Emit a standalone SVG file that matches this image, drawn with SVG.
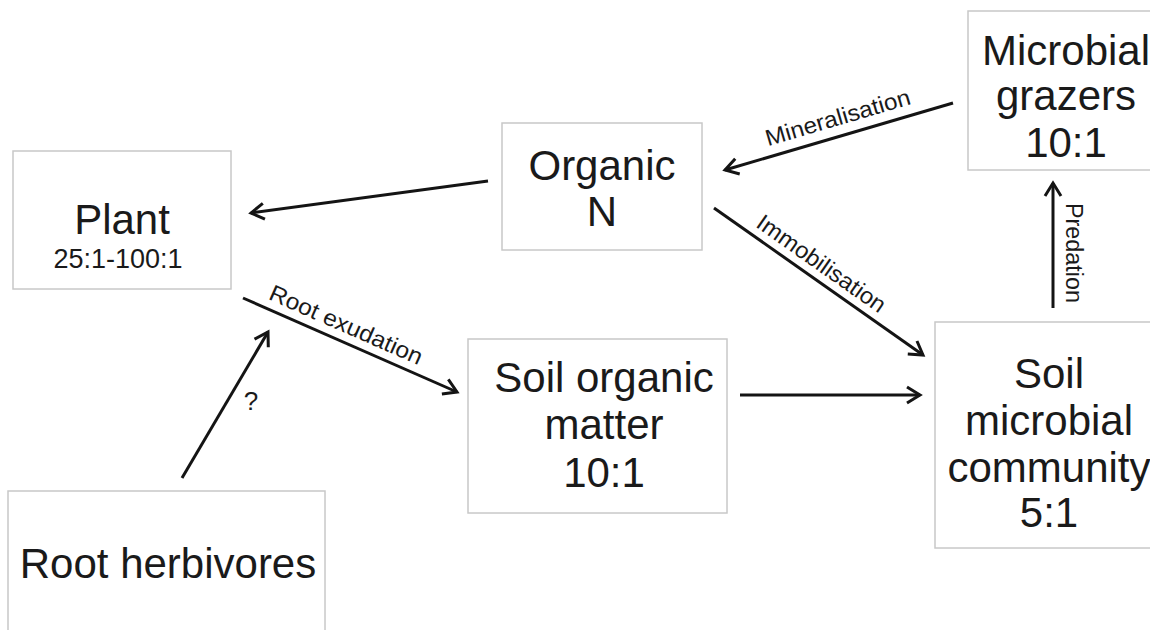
<svg xmlns="http://www.w3.org/2000/svg" width="1150" height="630" viewBox="0 0 1150 630">
<defs>
<style>
.box{fill:#fff;stroke:#c8c8c8;stroke-width:1.5}
.t{font-family:"Liberation Sans",Arial,sans-serif;font-size:42px;fill:#1a1a1a;text-anchor:middle}
.s{font-family:"Liberation Sans",Arial,sans-serif;font-size:27px;fill:#1a1a1a;text-anchor:middle}
.l{font-family:"Liberation Sans",Arial,sans-serif;font-size:23px;fill:#1a1a1a;text-anchor:middle}
.c{stroke:#141414;stroke-width:3;fill:none;marker-end:url(#ah)}
</style>
<marker id="ah" markerUnits="userSpaceOnUse" viewBox="0 0 20 20" refX="17" refY="10" markerWidth="20" markerHeight="20" orient="auto">
<path d="M4,2 L17,10 L4,18" fill="none" stroke="#141414" stroke-width="3"/>
</marker>
</defs>
<rect width="1150" height="630" fill="#fff"/>
<g id="plant">
<rect class="box" x="13" y="151" width="218" height="138"/>
<text class="t" x="122" y="234">Plant</text>
<text class="s" x="118" y="268">25:1-100:1</text>
</g>
<g id="organic-n">
<rect class="box" x="502" y="123" width="200" height="127"/>
<text class="t" x="602" y="180">Organic</text>
<text class="t" x="602" y="226">N</text>
</g>
<g id="microbial-grazers">
<rect class="box" x="968" y="11" width="190" height="159"/>
<text class="t" x="1066" y="65">Microbial</text>
<text class="t" x="1066" y="110">grazers</text>
<text class="t" x="1066" y="157">10:1</text>
</g>
<g id="soil-microbial-community">
<rect class="box" x="935" y="322" width="220" height="226"/>
<text class="t" x="1049" y="388">Soil</text>
<text class="t" x="1049" y="435">microbial</text>
<text class="t" x="1049" y="482">community</text>
<text class="t" x="1049" y="527">5:1</text>
</g>
<g id="soil-organic-matter">
<rect class="box" x="468" y="339" width="259" height="174"/>
<text class="t" x="604" y="392">Soil organic</text>
<text class="t" x="604" y="439">matter</text>
<text class="t" x="604" y="487">10:1</text>
</g>
<g id="root-herbivores">
<rect class="box" x="8" y="491" width="317" height="160"/>
<text class="t" x="168" y="578">Root herbivores</text>
</g>
<g id="connectors">
<line class="c" x1="488" y1="181" x2="251" y2="213"/>
<line class="c" x1="243" y1="298" x2="457" y2="392"/>
<line class="c" x1="182" y1="478" x2="268" y2="332"/>
<line class="c" x1="953" y1="103" x2="725" y2="170"/>
<line class="c" x1="714" y1="208" x2="923" y2="355"/>
<line class="c" x1="740" y1="395" x2="920" y2="395"/>
<line class="c" x1="1053" y1="308" x2="1053" y2="183"/>
<text class="l" transform="translate(343,332) rotate(23.7)" textLength="165" lengthAdjust="spacingAndGlyphs">Root exudation</text>
<text class="l" transform="translate(840,125) rotate(-16.4)" textLength="150" lengthAdjust="spacingAndGlyphs">Mineralisation</text>
<text class="l" transform="translate(817,270) rotate(35.1)" textLength="152" lengthAdjust="spacingAndGlyphs">Immobilisation</text>
<text class="l" transform="translate(1066,253) rotate(90)" textLength="100" lengthAdjust="spacingAndGlyphs">Predation</text>
<text class="l" x="251" y="410" style="font-size:26px">?</text>
</g>
</svg>
